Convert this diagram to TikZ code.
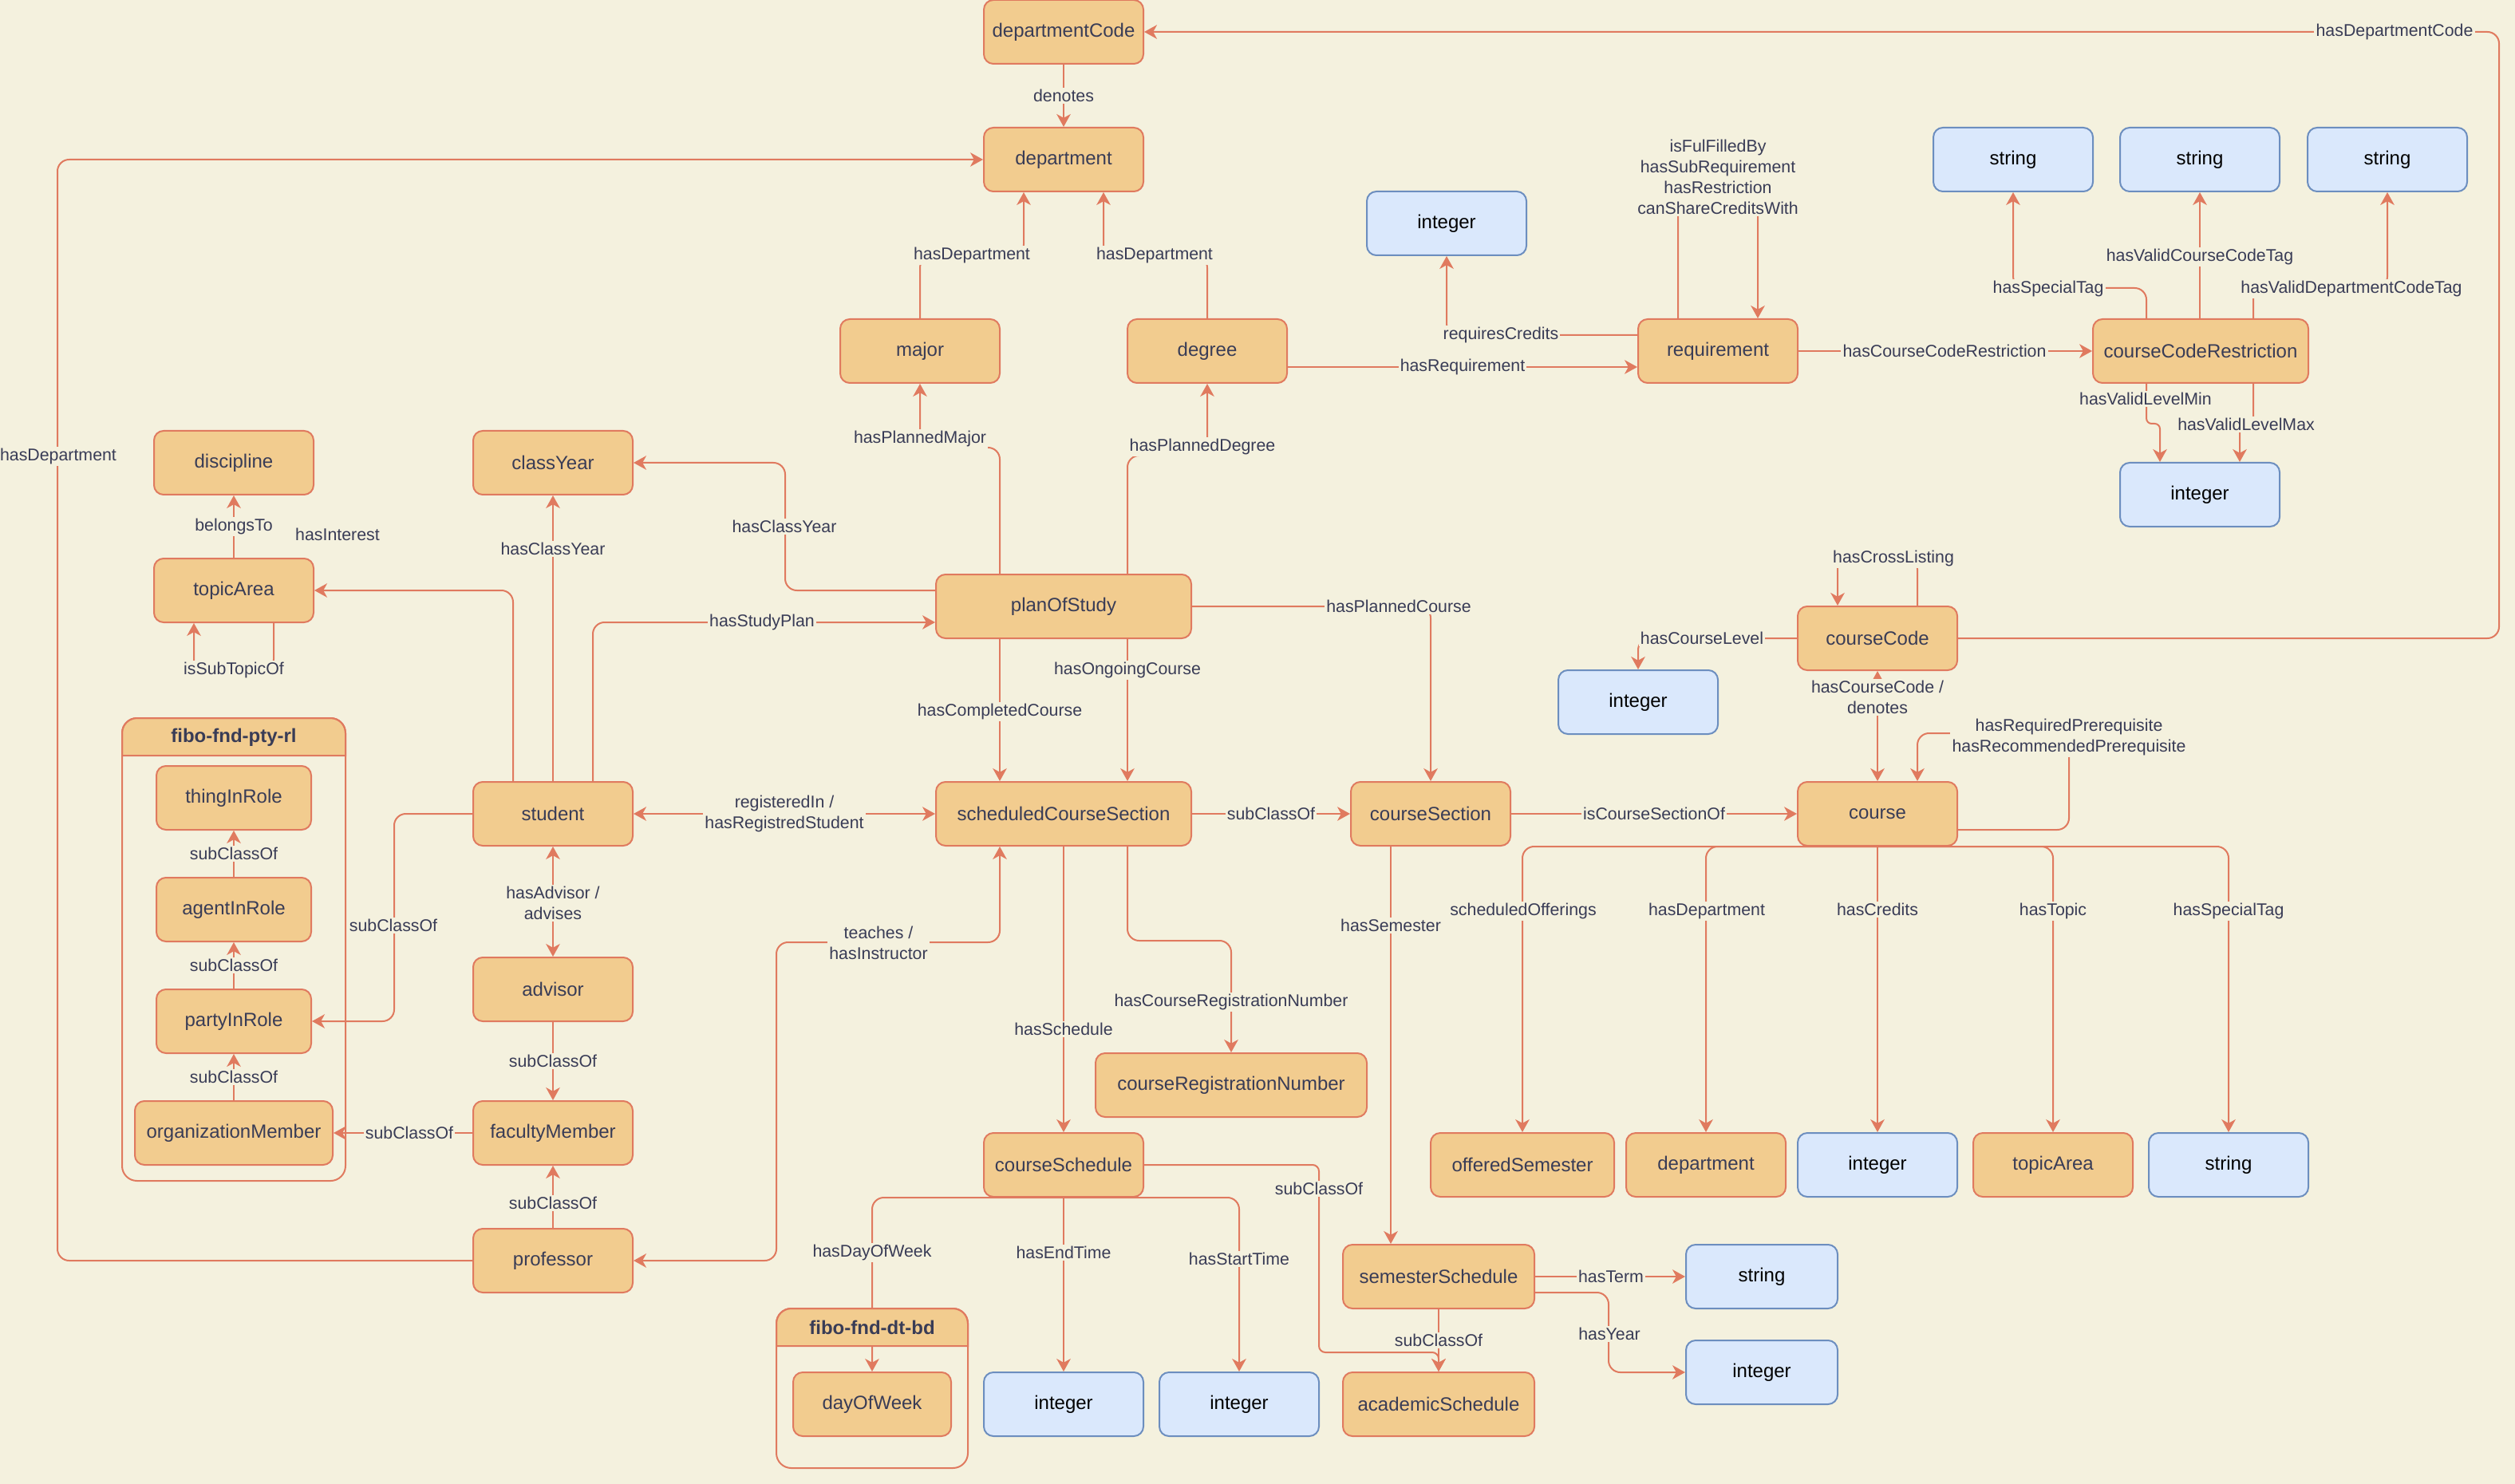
\documentclass[tikz,border=0pt]{standalone}
\usepackage{fontspec}
\setmainfont{Liberation Sans}
\usetikzlibrary{arrows.meta,calc}
\definecolor{bgc}{HTML}{F4F1DE}
\definecolor{strk}{HTML}{E07A5F}
\definecolor{fillc}{HTML}{F2CC8F}
\definecolor{fontc}{HTML}{393C56}
\definecolor{bfill}{HTML}{DAE8FC}
\definecolor{bstrk}{HTML}{6C8EBF}
\pgfdeclarelayer{back}
\pgfdeclarelayer{edges}
\pgfsetlayers{back,edges,main}
\begin{document}
\begin{tikzpicture}[x=0.75pt,y=-0.75pt,
 cls/.style={draw=strk, fill=fillc, text=fontc, rounded corners=4.5pt, line width=0.75pt, minimum height=30pt, minimum width=75pt, inner sep=0pt, font=\fontsize{9}{10.8}\selectfont},
 dtype/.style={cls, draw=bstrk, fill=bfill, text=black},
 wd/.style={minimum width=#1*0.75pt},
 lbl/.style={fill=bgc, text=fontc, inner sep=0.8pt, align=center, font=\fontsize{8}{9.75}\selectfont},
 conn/.style={draw=strk, line width=0.75pt, rounded corners=5.5pt, -{Stealth[length=6pt,width=6.6pt,inset=1.8pt]}},
 twoway/.style={conn, {Stealth[length=6pt,width=6.6pt,inset=1.8pt]}-{Stealth[length=6pt,width=6.6pt,inset=1.8pt]}},
 ttl/.style={text=fontc, font=\fontsize{9}{10.8}\selectfont\bfseries, inner sep=0pt}
]
\begin{pgfonlayer}{back}
\fill[bgc] (3.5,0) rectangle (1579.5,930);
\end{pgfonlayer}
\useasboundingbox (3.5,0) rectangle (1579.5,930);

% containers
\filldraw[fill=fillc, draw=strk, line width=0.75pt] (80,473.5) [rounded corners=7pt] -- (80,450) -- (220,450) [sharp corners] -- (220,473.5) -- cycle;
\draw[strk, line width=0.75pt, rounded corners=7pt] (80,450) rectangle (220,740);
\node[ttl] (rlTitle) at (150,462) {fibo-fnd-pty-rl};
\filldraw[fill=fillc, draw=strk, line width=0.75pt] (490,843.5) [rounded corners=7pt] -- (490,820) -- (610,820) [sharp corners] -- (610,843.5) -- cycle;
\draw[strk, line width=0.75pt, rounded corners=7pt] (490,820) rectangle (610,920);
\node[ttl] (bdTitle) at (550,832) {fibo-fnd-dt-bd};

% nodes
\node[cls] (deptCode) at (670,20) {departmentCode};
\node[cls] (dept) at (670,100) {department};
\node[dtype] (intReq) at (910,140) {integer};
\node[dtype] (str1) at (1265,100) {string};
\node[dtype] (str2) at (1382,100) {string};
\node[dtype] (str3) at (1499.5,100) {string};
\node[cls] (major) at (580,220) {major};
\node[cls] (degree) at (760,220) {degree};
\node[cls] (req) at (1080,220) {requirement};
\node[cls, wd=135] (ccr) at (1382.5,220) {courseCodeRestriction};
\node[dtype] (intCcr) at (1382,310) {integer};
\node[cls] (discipline) at (150,290) {discipline};
\node[cls] (classYear) at (350,290) {classYear};
\node[cls] (topicArea) at (150,370) {topicArea};
\node[cls, wd=160] (plan) at (670,380) {planOfStudy};
\node[cls] (cc) at (1180,400) {courseCode};
\node[dtype] (intLevel) at (1030,440) {integer};
\node[cls, wd=97] (thing) at (150,500) {thingInRole};
\node[cls, wd=97] (agent) at (150,570) {agentInRole};
\node[cls, wd=97] (party) at (150,640) {partyInRole};
\node[cls, wd=124] (org) at (150,710) {organizationMember};
\node[cls] (student) at (350,510) {student};
\node[cls, wd=160] (sched) at (670,510) {scheduledCourseSection};
\node[cls] (cs) at (900,510) {courseSection};
\node[cls] (course) at (1180,510) {course};
\node[cls] (advisor) at (350,620) {advisor};
\node[cls] (faculty) at (350,710) {facultyMember};
\node[cls] (prof) at (350,790) {professor};
\node[cls, wd=170] (crn) at (775,680) {courseRegistrationNumber};
\node[cls] (csched) at (670,730) {courseSchedule};
\node[cls, wd=115] (offSem) at (957.5,730) {offeredSemester};
\node[cls] (dept2) at (1072.5,730) {department};
\node[dtype] (intCred) at (1180,730) {integer};
\node[cls] (topic2) at (1290,730) {topicArea};
\node[dtype] (str5) at (1400,730) {string};
\node[cls, wd=120] (semSched) at (905,800) {semesterSchedule};
\node[dtype, wd=95] (strTerm) at (1107.5,800) {string};
\node[dtype, wd=95] (intYear) at (1107.5,860) {integer};
\node[cls, wd=120] (acad) at (905,880) {academicSchedule};
\node[cls, wd=99] (dow) at (550,880) {dayOfWeek};
\node[dtype] (intEnd) at (670,880) {integer};
\node[dtype] (intStart) at (780,880) {integer};

% edges
\begin{pgfonlayer}{edges}
\draw[conn] (deptCode.south) -- (dept.north);
\draw[conn] (major.north) |- ($(dept.south)+(-25,40)$) -- ($(dept.south)+(-25,0)$);
\draw[conn] (degree.north) |- ($(dept.south)+(25,40)$) -- ($(dept.south)+(25,0)$);
\draw[conn] ($(plan.north)+(-40,0)$) |- ($(major.south)+(0,40)$) -- (major.south);
\draw[conn] ($(plan.north)+(40,0)$) |- ($(degree.south)+(0,45)$) -- (degree.south);
\draw[conn] ($(plan.west)+(0,-10)$) -| ($(classYear.east)+(95,0)$) -- (classYear.east);
\draw[conn] ($(student.north)+(25,0)$) |- ($(plan.west)+(0,10)$);
\draw[conn] (student.north) -- (classYear.south);
\draw[conn] ($(student.north)+(-25,0)$) |- (topicArea.east);
\draw[conn] (topicArea.north) -- (discipline.south);
\draw[conn] ($(topicArea.south)+(25,0)$) -- ++(0,30) -| ($(topicArea.south)+(-25,0)$);
\draw[twoway] (student.east) -- (sched.west);
\draw[conn] ($(plan.south)+(-40,0)$) -- ($(sched.north)+(-40,0)$);
\draw[conn] ($(plan.south)+(40,0)$) -- ($(sched.north)+(40,0)$);
\draw[conn] (plan.east) -| (cs.north);
\draw[conn] (sched.east) -- (cs.west);
\draw[conn] (cs.east) -- (course.west);
\draw[conn] ($(cs.south)+(-25,0)$) -- ($(semSched.north)+(-30,0)$);
\draw[twoway] (prof.east) -| ($(sched.south)+(-180,60)$) -| ($(sched.south)+(-40,0)$);
\draw[conn] (sched.south) -- (csched.north);
\draw[conn] ($(sched.south)+(40,0)$) |- ($(crn.north)+(0,-70)$) -- (crn.north);
\draw[conn] (csched.south) -| (dow.north);
\draw[conn] (csched.south) -- (intEnd.north);
\draw[conn] (csched.south) -| (intStart.north);
\draw[conn, rounded corners=3pt] (csched.east) -| ($(acad.north)+(-75,-12)$) -| (acad.north);
\draw[conn] (semSched.south) -- (acad.north);
\draw[conn] (semSched.east) -- (strTerm.west);
\draw[conn] ($(semSched.east)+(0,10)$) -| ($(intYear.west)+(-48,0)$) -- (intYear.west);
\draw[conn] (course.south) -| (offSem.north);
\draw[conn] (course.south) -| (dept2.north);
\draw[conn] (course.south) -- (intCred.north);
\draw[conn] (course.south) -| (topic2.north);
\draw[conn] (course.south) -| (str5.north);
\draw[conn] ($(course.east)+(0,10)$) -| ($(course.north)+(120,-30)$) -| ($(course.north)+(25,0)$);
\draw[twoway] (cc.south) -- (course.north);
\draw[conn] ($(cc.north)+(25,0)$) -- ++(0,-30) -| ($(cc.north)+(-25,0)$);
\draw[conn] (cc.west) -| (intLevel.north);
\draw[conn] (cc.east) -| ($(deptCode.east)+(849,0)$) -- (deptCode.east);
\draw[conn] (prof.west) -| ($(dept.west)+(-580,0)$) -- (dept.west);
\draw[conn] ($(degree.east)+(0,10)$) -- ($(req.west)+(0,10)$);
\draw[conn] ($(req.west)+(0,-10)$) -| (intReq.south);
\draw[conn] ($(req.north)+(-25,0)$) -- ++(0,-90) -| ($(req.north)+(25,0)$);
\draw[conn] (req.east) -- (ccr.west);
\draw[conn] ($(ccr.north)+(-34,0)$) |- ($(str1.south)+(0,60)$) -- (str1.south);
\draw[conn] (str2.south |- ccr.north) -- (str2.south);
\draw[conn] ($(ccr.north)+(33,0)$) |- ($(str3.south)+(0,60)$) -- (str3.south);
\draw[conn, rounded corners=2.5pt] ($(ccr.south)+(-34,0)$) -- ++(0,25) -| ($(intCcr.north)+(-25,0)$);
\draw[conn, rounded corners=2.5pt] ($(ccr.south)+(33,0)$) -- ++(0,26) -| ($(intCcr.north)+(25,0)$);
\draw[conn] (advisor.south) -- (faculty.north);
\draw[twoway] (student.south) -- (advisor.north);
\draw[conn] (prof.north) -- (faculty.south);
\draw[conn] (faculty.west) -- (org.east);
\draw[conn] (student.west) -| ($(party.east)+(51.5,0)$) -- (party.east);
\draw[conn] (agent.north) -- (thing.south);
\draw[conn] (party.north) -- (agent.south);
\draw[conn] (org.north) -- (party.south);
\end{pgfonlayer}

% labels
\node[lbl] (l1) at (670,60) {denotes};
\node[lbl] (l2) at (612.5,160) {hasDepartment};
\node[lbl] (l3) at (727,160) {hasDepartment};
\node[lbl] (l4) at (580,275) {hasPlannedMajor};
\node[lbl] (l5) at (757,280) {hasPlannedDegree};
\node[lbl] (l6) at (495,330) {hasClassYear};
\node[lbl] (l7) at (481,390) {hasStudyPlan};
\node[lbl] (l8) at (350,344) {hasClassYear};
\node[lbl] (l9) at (215,335) {hasInterest};
\node[lbl] (l10) at (150,330) {belongsTo};
\node[lbl] (l11) at (150,420) {isSubTopicOf};
\node[lbl] (l12) at (495,510) {registeredIn /\\hasRegistredStudent};
\node[lbl] (l13) at (630,446) {hasCompletedCourse};
\node[lbl] (l14) at (710,420) {hasOngoingCourse};
\node[lbl] (l15) at (880,380) {hasPlannedCourse};
\node[lbl] (l16) at (800,510) {subClassOf};
\node[lbl] (l17) at (1040,510) {isCourseSectionOf};
\node[lbl] (l18) at (875,580) {hasSemester};
\node[lbl] (l19) at (554,591) {teaches /\\hasInstructor};
\node[lbl] (l20) at (670,645) {hasSchedule};
\node[lbl] (l21) at (775,628) {hasCourseRegistrationNumber};
\node[lbl] (l22) at (550,785) {hasDayOfWeek};
\node[lbl] (l23) at (670,785) {hasEndTime};
\node[lbl] (l24) at (780,789) {hasStartTime};
\node[lbl] (l25) at (830,745) {subClassOf};
\node[lbl] (l26) at (905,840) {subClassOf};
\node[lbl] (l27) at (1013,800) {hasTerm};
\node[lbl] (l28) at (1012,836) {hasYear};
\node[lbl] (l29) at (958,571) {scheduledOfferings};
\node[lbl] (l30) at (1073,571) {hasDepartment};
\node[lbl] (l31) at (1180,570) {hasCredits};
\node[lbl] (l32) at (1290,571) {hasTopic};
\node[lbl] (l33) at (1400,571) {hasSpecialTag};
\node[lbl] (l34) at (1300,462) {hasRequiredPrerequisite\\hasRecommendedPrerequisite};
\node[lbl] (l35) at (1180,437) {hasCourseCode /\\denotes};
\node[lbl] (l36) at (1190,350) {hasCrossListing};
\node[lbl] (l37) at (1070,400) {hasCourseLevel};
\node[lbl] (l38) at (1504,20) {hasDepartmentCode};
\node[lbl] (l39) at (40,286) {hasDepartment};
\node[lbl] (l40) at (920,230) {hasRequirement};
\node[lbl] (l41) at (944,210) {requiresCredits};
\node[lbl] (l42) at (1080,111) {isFulFilledBy\\hasSubRequirement\\hasRestriction\\canShareCreditsWith};
\node[lbl] (l43) at (1222,220) {hasCourseCodeRestriction};
\node[lbl] (l44) at (1287,181) {hasSpecialTag};
\node[lbl] (l45) at (1382,161) {hasValidCourseCodeTag};
\node[lbl] (l46) at (1477,181) {hasValidDepartmentCodeTag};
\node[lbl] (l47) at (1348,250) {hasValidLevelMin};
\node[lbl] (l48) at (1411,266) {hasValidLevelMax};
\node[lbl] (l49) at (350,665) {subClassOf};
\node[lbl] (l50) at (350,566) {hasAdvisor /\\advises};
\node[lbl] (l51) at (350,754) {subClassOf};
\node[lbl] (l52) at (260,710) {subClassOf};
\node[lbl] (l53) at (250,580) {subClassOf};
\node[lbl] (l54) at (150,535) {subClassOf};
\node[lbl] (l55) at (150,605) {subClassOf};
\node[lbl] (l56) at (150,675) {subClassOf};
\end{tikzpicture}
\end{document}
